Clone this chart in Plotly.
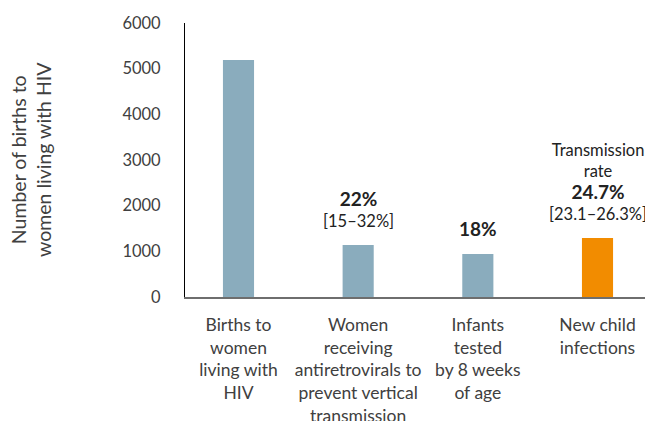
import plotly.graph_objects as go

categories = [
    "Births to<br>women<br>living with<br>HIV",
    "Women<br>receiving<br>antiretrovirals to<br>prevent vertical<br>transmission",
    "Infants<br>tested<br>by 8 weeks<br>of age",
    "New child<br>infections",
]
values = [5190, 1140, 942, 1292]
bar_colors = ["#8aacbd", "#8aacbd", "#8aacbd", "#f28c00"]
B = "<span style='font-size:19px'><b>{}</b></span>"
bar_labels = [
    "",
    B.format("22%") + "<br>[15–32%]",
    B.format("18%"),
    "Transmission<br>rate<br>" + B.format("24.7%") + "<br>[23.1–26.3%]",
]
y_ticks = [0, 1000, 2000, 3000, 4000, 5000, 6000]
y_title = "Number of births to<br>women living with HIV"

FONT = "Lato"
TXT = "#404040"

xs = list(range(len(categories)))
fig = go.Figure()
fig.add_trace(go.Bar(x=xs, y=values, marker_color=bar_colors, width=0.26,
                     marker_line_width=0))

for x, v, t in zip(xs, values, bar_labels):
    if t:
        fig.add_annotation(x=x, y=v, text=t, showarrow=False, yanchor="bottom",
                           yshift=12, font=dict(family=FONT, size=16.5, color="#222222"))

fig.add_annotation(xref="paper", yref="paper", x=0, y=0.5, xshift=-154,
                   text=y_title, textangle=-90, showarrow=False,
                   xanchor="center", yanchor="middle",
                   font=dict(family=FONT, size=19.5, color=TXT))

# page has an 8px body margin: figure is drawn from (8, 8)
fig.update_layout(
    width=645, height=413,
    margin=dict(l=177, r=2, t=15, b=124, autoexpand=False),
    plot_bgcolor="white", paper_bgcolor="white",
    showlegend=False,
    font=dict(family=FONT, size=16, color=TXT),
    xaxis=dict(range=[-0.447, 3.447], tickmode="array", tickvals=xs,
               ticktext=categories, showline=True, linecolor="#6e6e6e",
               linewidth=1.5, showgrid=False, zeroline=False, ticks="",
               automargin=False,
               ticklabelstandoff=11, tickfont=dict(family=FONT, size=17.5, color=TXT)),
    yaxis=dict(range=[0, 6000], tickmode="array", tickvals=y_ticks,
               showline=True, linecolor="black", linewidth=1, showgrid=False,
               zeroline=False, ticks="", ticklabelstandoff=20, automargin=False,
               tickfont=dict(family=FONT, size=16.5, color=TXT)),
)
fig.write_html("out.html")
